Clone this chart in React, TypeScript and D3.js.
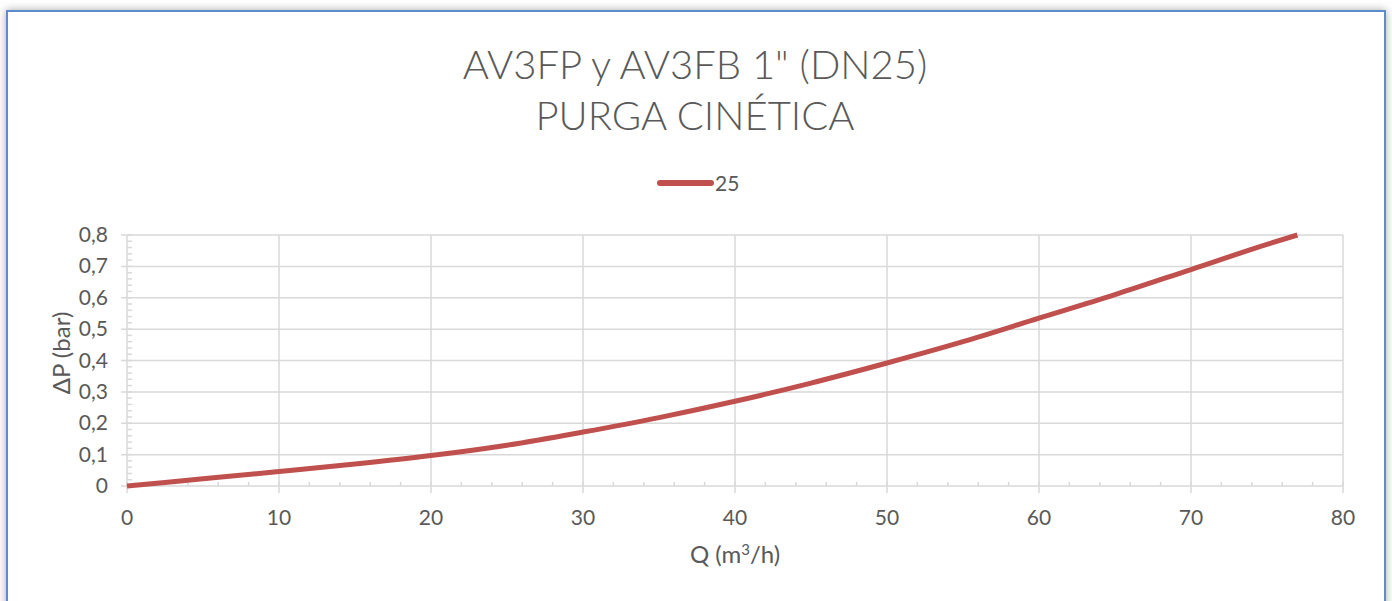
import React from "react";
import * as d3 from "d3";

const flowValues = [0, 5, 10, 15, 20, 25, 30, 35, 40, 45, 50, 55, 60, 65, 70, 75, 77];
const dpValues = [0, 0.023, 0.046, 0.07, 0.097, 0.13, 0.172, 0.218, 0.27, 0.328, 0.392, 0.46, 0.535, 0.61, 0.69, 0.77, 0.8];
const seriesName = "25";
const xTicks = [0, 10, 20, 30, 40, 50, 60, 70, 80];
const yTicks = [0, 0.1, 0.2, 0.3, 0.4, 0.5, 0.6, 0.7, 0.8];
const titleLines = ["AV3FP y AV3FB 1\" (DN25)", "PURGA CINÉTICA"];

const W = 1392, H = 601;
const FONT = "Lato, 'Open Sans', sans-serif";
const TXT = "#595959";
const GRID = "#d9d9d9";

export default function App() {
  const x = d3.scaleLinear().domain([0, 80]).range([127, 1343]);
  const y = d3.scaleLinear().domain([0, 0.8]).range([486, 235]);
  const line = d3.line<number>().x((d, i) => x(flowValues[i])).y((d) => y(d)).curve(d3.curveMonotoneX);
  const minorX = d3.range(0, 80.001, 2);
  const minorY = d3.range(0, 0.8001, 0.02);
  const fmt = (v: number) => (v === 0 ? "0" : d3.format(".1f")(v).replace(".", ","));
  return (
    <svg width={W} height={H} style={{ position: "absolute", left: 0, top: 0 }} fontFamily={FONT}>
      <defs>
        <filter id="sh" x="-5%" y="-5%" width="110%" height="110%">
          <feDropShadow dx="0" dy="0" stdDeviation="4" floodColor="#000" floodOpacity="0.35" />
        </filter>
      </defs>
      <rect x={0} y={0} width={W} height={H} fill="#fff" />
      <rect x={7} y={11} width={1378} height={640} fill="#fff" stroke="#5b8ccc" strokeWidth={2} filter="url(#sh)" />
      {titleLines.map((t, i) => (
        <text key={i} x={695} y={79 + i * 51} textAnchor="middle" fontSize={40} fontWeight={300} fill={TXT}>{t}</text>
      ))}
      <line x1={660} x2={711} y1={183} y2={183} stroke="#c0504d" strokeWidth={6} strokeLinecap="round" />
      <text x={715} y={191} fontSize={21} fill={TXT}>{seriesName}</text>
      {yTicks.map((t) => (
        <line key={"gy" + t} x1={121} x2={1343} y1={y(t)} y2={y(t)} stroke={GRID} strokeWidth={1.5} />
      ))}
      {xTicks.slice(1).map((t) => (
        <line key={"gx" + t} x1={x(t)} x2={x(t)} y1={235} y2={493} stroke={GRID} strokeWidth={1.5} />
      ))}
      <line x1={x(0)} x2={x(0)} y1={235} y2={493} stroke={GRID} strokeWidth={1.5} />
      {minorX.map((t) => (
        <line key={"mx" + t} x1={x(t)} x2={x(t)} y1={482} y2={486} stroke={GRID} strokeWidth={1.5} />
      ))}
      {minorY.map((t, i) => (
        <line key={"my" + i} x1={127} x2={132} y1={y(t)} y2={y(t)} stroke={GRID} strokeWidth={1.5} />
      ))}
      {yTicks.map((t) => (
        <text key={"ty" + t} x={108} y={y(t) + 7} textAnchor="end" fontSize={21} fill={TXT}>{fmt(t)}</text>
      ))}
      {xTicks.map((t) => (
        <text key={"tx" + t} x={x(t)} y={525} textAnchor="middle" fontSize={21} fill={TXT}>{t}</text>
      ))}
      <text x={735} y={563} textAnchor="middle" fontSize={24} fill={TXT}>
        Q (m<tspan dy={-8} fontSize={15}>3</tspan><tspan dy={8}>/h)</tspan>
      </text>
      <text transform="translate(70,353) rotate(-90)" textAnchor="middle" fontSize={24} fill={TXT}>ΔP (bar)</text>
      <path d={line(dpValues) || ""} fill="none" stroke="#c0504d" strokeWidth={5} strokeLinecap="butt" />
    </svg>
  );
}
